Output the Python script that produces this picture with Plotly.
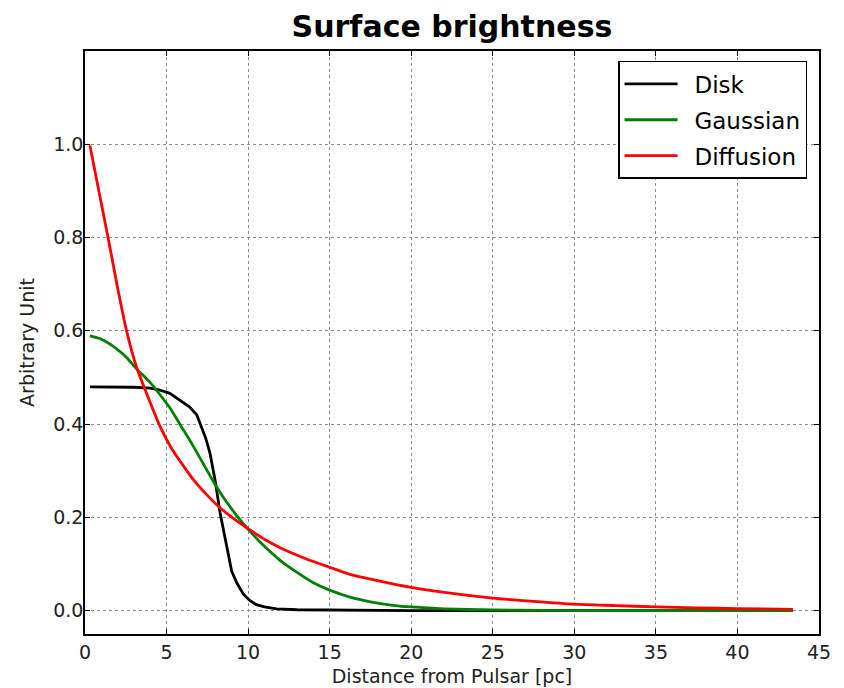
import plotly.graph_objects as go

# ---- data ----
disk_x = [0.3, 2.0, 3.0, 4.0, 4.6, 5.2, 5.8, 6.4, 6.85, 7.15, 7.4, 7.66, 7.97, 8.28,
          8.68, 8.99, 9.3, 9.7, 10.1, 10.5, 11.0, 11.75, 13.0, 15.0, 20.0, 43.4]
disk_y = [0.480, 0.480, 0.479, 0.477, 0.473, 0.466, 0.452, 0.437, 0.420, 0.395, 0.370,
          0.338, 0.281, 0.210, 0.139, 0.085, 0.060, 0.036, 0.022, 0.013, 0.008, 0.004,
          0.002, 0.001, 0.0, 0.0]

gauss_x = [0.3, 1.0, 1.92, 2.55, 3.15, 4.0, 4.6, 5.2, 5.9, 6.6, 7.3, 7.87, 8.5, 9.3,
           10.12, 11.0, 11.96, 13.0, 14.0, 15.0, 16.25, 17.5, 19.0, 20.0, 22.0, 25.0,
           28.0, 32.0, 43.4]
gauss_y = [0.589, 0.582, 0.562, 0.543, 0.519, 0.489, 0.463, 0.435, 0.395, 0.355, 0.312,
           0.277, 0.242, 0.204, 0.170, 0.138, 0.108, 0.082, 0.060, 0.044, 0.029, 0.019,
           0.011, 0.008, 0.004, 0.0015, 0.0005, 0.0, 0.0]

diff_x = [0.3, 0.85, 1.43, 2.0, 2.55, 3.15, 3.65, 4.6, 5.29, 6.0, 6.64, 7.4, 8.17, 9.2,
          10.2, 11.0, 11.96, 13.5, 15.0, 16.25, 18.0, 20.0, 22.5, 25.0, 27.5, 30.0,
          32.5, 35.0, 37.5, 40.0, 43.4]
diff_y = [0.998, 0.900, 0.797, 0.692, 0.600, 0.523, 0.477, 0.395, 0.349, 0.312, 0.281,
          0.251, 0.224, 0.195, 0.171, 0.153, 0.135, 0.112, 0.093, 0.078, 0.064, 0.050,
          0.037, 0.027, 0.020, 0.014, 0.011, 0.008, 0.006, 0.0045, 0.003]

series_names = ["Disk", "Gaussian", "Diffusion"]
series_colors = ["#000000", "#008000", "#ff0000"]

x_ticks = [0, 5, 10, 15, 20, 25, 30, 35, 40, 45]
y_ticks = [0.0, 0.2, 0.4, 0.6, 0.8, 1.0]
y_tick_text = ["0.0", "0.2", "0.4", "0.6", "0.8", "1.0"]

FONT = "DejaVu Sans"

fig = go.Figure()
for name, color, xs, ys, shape in [
    (series_names[0], series_colors[0], disk_x, disk_y, "linear"),
    (series_names[1], series_colors[1], gauss_x, gauss_y, "spline"),
    (series_names[2], series_colors[2], diff_x, diff_y, "spline"),
]:
    fig.add_trace(go.Scatter(
        x=xs, y=ys, mode="lines", name="\u00a0\u2009" + name, legendgroup=name,
        line=dict(color=color, width=2.8, shape=shape,
                  smoothing=0.6 if shape == "spline" else None),
    ))

axis_common = dict(
    showline=True, linecolor="#000000", linewidth=1.6, mirror="ticks",
    ticks="inside", ticklen=5, tickcolor="#000000", tickwidth=1,
    showgrid=True, gridcolor="#8c8c8c", gridwidth=1, griddash="dot",
    zeroline=False, automargin=False,
    tickfont=dict(family=FONT, size=19, color="#222222"),
)

fig.update_layout(
    width=844, height=688,
    margin=dict(l=77, r=33, t=43, b=62),
    paper_bgcolor="white", plot_bgcolor="white",
    title=dict(text="<b>Surface brightness</b>", x=444 / 844, xanchor="center",
               y=1 - 18.5 / 688, yanchor="middle", yref="container",
               font=dict(family=FONT, size=30, color="#000000")),
    xaxis=dict(range=[0, 45], tickvals=x_ticks,
               title=dict(text="Distance from Pulsar [pc]", standoff=8,
                          font=dict(family=FONT, size=19, color="#222222")),
               **axis_common),
    yaxis=dict(range=[-0.05, 1.2], tickvals=y_ticks, ticktext=y_tick_text,
               ticklabelstandoff=-4,
               title=dict(text="Arbitrary Unit", standoff=14,
                          font=dict(family=FONT, size=19, color="#222222")),
               **axis_common),
    legend=dict(x=0.9837, y=0.983, xanchor="right", yanchor="top",
                bgcolor="white", bordercolor="#000000", borderwidth=1.5,
                font=dict(family=FONT, size=23, color="#000000"),
                itemwidth=53, tracegroupgap=3, traceorder="grouped"),
    showlegend=True,
)

fig.write_html("out.html")
